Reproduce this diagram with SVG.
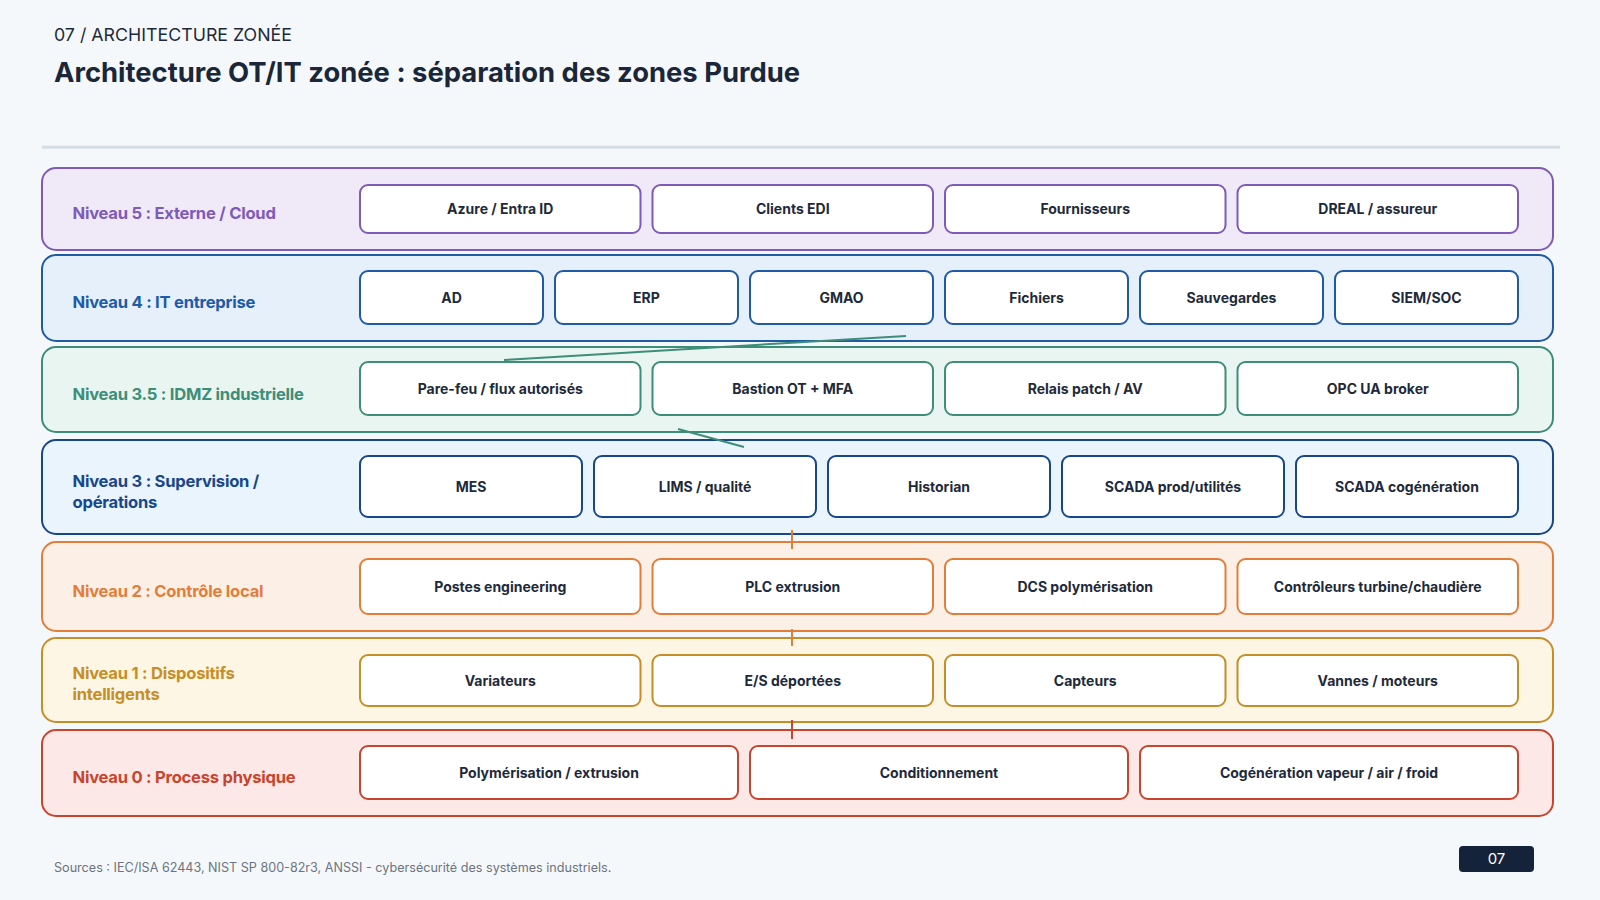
<svg xmlns="http://www.w3.org/2000/svg" width="1600" height="900" viewBox="0 0 1600 900">
<style>
.bg{fill:#F5F8FB}
.kicker{font-family:Inter,"Liberation Sans",sans-serif;font-size:17.8px;fill:#1E2A3A}
.title{font-family:Inter,"Liberation Sans",sans-serif;font-size:27.4px;font-weight:700;fill:#1B2638}
.band{stroke-width:2}
.node{fill:#FFFFFF;stroke-width:2}
.lbl{font-family:Inter,"Liberation Sans",sans-serif;font-size:16.6px;font-weight:700;letter-spacing:-0.25px}
.nt{font-family:Inter,"Liberation Sans",sans-serif;font-size:14px;font-weight:700;fill:#1E2A3A;text-anchor:middle}
.l5 .band{fill:#F0EAF8;stroke:#7E5BB8}.l5 .node{stroke:#7E5BB8}.l5 .lbl{fill:#7E5BB8}
.l4 .band{fill:#E6F0FB;stroke:#1F5AA6}.l4 .node{stroke:#1F5AA6}.l4 .lbl{fill:#1F5AA6}
.l35 .band{fill:#E8F5F0;stroke:#3E8D78}.l35 .node{stroke:#3E8D78}.l35 .lbl{fill:#3E8D78}
.l3 .band{fill:#EAF4FD;stroke:#17478A}.l3 .node{stroke:#17478A}.l3 .lbl{fill:#17478A}
.l2 .band{fill:#FCF0E6;stroke:#E37D3A}.l2 .node{stroke:#E37D3A}.l2 .lbl{fill:#E37D3A}
.l1 .band{fill:#FDF6E4;stroke:#C68E26}.l1 .node{stroke:#C68E26}.l1 .lbl{fill:#C68E26}
.l0 .band{fill:#FCE9E7;stroke:#C9442D}.l0 .node{stroke:#C9442D}.l0 .lbl{fill:#C9442D}
.foot{font-family:Inter,"Liberation Sans",sans-serif;font-size:12.6px;fill:#6B7480}
</style>
<rect class="bg" x="0" y="0" width="1600" height="900"/>
<text class="kicker" x="54" y="40.5">07 / ARCHITECTURE ZONÉE</text>
<text class="title" x="54" y="82">Architecture OT/IT zonée : séparation des zones Purdue</text>
<rect x="42" y="145.7" width="1518" height="3" fill="#D6DDE5"/>

<g id="niveau5" class="l5">
<rect class="band" x="42" y="168" width="1511" height="82" rx="14"/>
<text class="lbl" x="72.5" y="218.5">Niveau 5 : Externe / Cloud</text>
<g id="n5-azure"><rect class="node" x="360" y="185" width="280.5" height="48" rx="8"/><text class="nt" x="500.25" y="214">Azure / Entra ID</text></g>
<g id="n5-edi"><rect class="node" x="652.5" y="185" width="280.5" height="48" rx="8"/><text class="nt" x="792.75" y="214">Clients EDI</text></g>
<g id="n5-fourn"><rect class="node" x="945" y="185" width="280.5" height="48" rx="8"/><text class="nt" x="1085.25" y="214">Fournisseurs</text></g>
<g id="n5-dreal"><rect class="node" x="1237.5" y="185" width="280.5" height="48" rx="8"/><text class="nt" x="1377.75" y="214">DREAL / assureur</text></g>
</g>

<g id="niveau4" class="l4">
<rect class="band" x="42" y="255" width="1511" height="86" rx="14"/>
<text class="lbl" x="72.5" y="307.5">Niveau 4 : IT entreprise</text>
<g id="n4-ad"><rect class="node" x="360" y="271" width="183" height="53" rx="8"/><text class="nt" x="451.5" y="302.5">AD</text></g>
<g id="n4-erp"><rect class="node" x="555" y="271" width="183" height="53" rx="8"/><text class="nt" x="646.5" y="302.5">ERP</text></g>
<g id="n4-gmao"><rect class="node" x="750" y="271" width="183" height="53" rx="8"/><text class="nt" x="841.5" y="302.5">GMAO</text></g>
<g id="n4-fichiers"><rect class="node" x="945" y="271" width="183" height="53" rx="8"/><text class="nt" x="1036.5" y="302.5">Fichiers</text></g>
<g id="n4-sauv"><rect class="node" x="1140" y="271" width="183" height="53" rx="8"/><text class="nt" x="1231.5" y="302.5">Sauvegardes</text></g>
<g id="n4-siem"><rect class="node" x="1335" y="271" width="183" height="53" rx="8"/><text class="nt" x="1426.5" y="302.5">SIEM/SOC</text></g>
</g>

<g id="niveau35" class="l35">
<rect class="band" x="42" y="347" width="1511" height="85" rx="14"/>
<text class="lbl" x="72.5" y="399.5">Niveau 3.5 : IDMZ industrielle</text>
<g id="n35-pf"><rect class="node" x="360" y="362" width="280.5" height="53" rx="8"/><text class="nt" x="500.25" y="393.5">Pare-feu / flux autorisés</text></g>
<g id="n35-bastion"><rect class="node" x="652.5" y="362" width="280.5" height="53" rx="8"/><text class="nt" x="792.75" y="393.5">Bastion OT + MFA</text></g>
<g id="n35-relais"><rect class="node" x="945" y="362" width="280.5" height="53" rx="8"/><text class="nt" x="1085.25" y="393.5">Relais patch / AV</text></g>
<g id="n35-opc"><rect class="node" x="1237.5" y="362" width="280.5" height="53" rx="8"/><text class="nt" x="1377.75" y="393.5">OPC UA broker</text></g>
</g>

<g id="niveau3" class="l3">
<rect class="band" x="42" y="440" width="1511" height="94" rx="14"/>
<text class="lbl" x="72.5" y="487">Niveau 3 : Supervision /</text>
<text class="lbl" x="72.5" y="507.5">opérations</text>
<g id="n3-mes"><rect class="node" x="360" y="456" width="222" height="61" rx="8"/><text class="nt" x="471" y="491.5">MES</text></g>
<g id="n3-lims"><rect class="node" x="594" y="456" width="222" height="61" rx="8"/><text class="nt" x="705" y="491.5">LIMS / qualité</text></g>
<g id="n3-hist"><rect class="node" x="828" y="456" width="222" height="61" rx="8"/><text class="nt" x="939" y="491.5">Historian</text></g>
<g id="n3-scada1"><rect class="node" x="1062" y="456" width="222" height="61" rx="8"/><text class="nt" x="1173" y="491.5">SCADA prod/utilités</text></g>
<g id="n3-scada2"><rect class="node" x="1296" y="456" width="222" height="61" rx="8"/><text class="nt" x="1407" y="491.5">SCADA cogénération</text></g>
</g>

<g id="niveau2" class="l2">
<rect class="band" x="42" y="542" width="1511" height="89" rx="14"/>
<text class="lbl" x="72.5" y="596.5">Niveau 2 : Contrôle local</text>
<g id="n2-postes"><rect class="node" x="360" y="559" width="280.5" height="55" rx="8"/><text class="nt" x="500.25" y="591.5">Postes engineering</text></g>
<g id="n2-plc"><rect class="node" x="652.5" y="559" width="280.5" height="55" rx="8"/><text class="nt" x="792.75" y="591.5">PLC extrusion</text></g>
<g id="n2-dcs"><rect class="node" x="945" y="559" width="280.5" height="55" rx="8"/><text class="nt" x="1085.25" y="591.5">DCS polymérisation</text></g>
<g id="n2-ctrl"><rect class="node" x="1237.5" y="559" width="280.5" height="55" rx="8"/><text class="nt" x="1377.75" y="591.5">Contrôleurs turbine/chaudière</text></g>
</g>

<g id="niveau1" class="l1">
<rect class="band" x="42" y="638" width="1511" height="84" rx="14"/>
<text class="lbl" x="72.5" y="679">Niveau 1 : Dispositifs</text>
<text class="lbl" x="72.5" y="700">intelligents</text>
<g id="n1-var"><rect class="node" x="360" y="655" width="280.5" height="51" rx="8"/><text class="nt" x="500.25" y="685.5">Variateurs</text></g>
<g id="n1-es"><rect class="node" x="652.5" y="655" width="280.5" height="51" rx="8"/><text class="nt" x="792.75" y="685.5">E/S déportées</text></g>
<g id="n1-capt"><rect class="node" x="945" y="655" width="280.5" height="51" rx="8"/><text class="nt" x="1085.25" y="685.5">Capteurs</text></g>
<g id="n1-vannes"><rect class="node" x="1237.5" y="655" width="280.5" height="51" rx="8"/><text class="nt" x="1377.75" y="685.5">Vannes / moteurs</text></g>
</g>

<g id="niveau0" class="l0">
<rect class="band" x="42" y="730" width="1511" height="86" rx="14"/>
<text class="lbl" x="72.5" y="782.5">Niveau 0 : Process physique</text>
<g id="n0-poly"><rect class="node" x="360" y="746" width="378" height="53" rx="8"/><text class="nt" x="549" y="777.5">Polymérisation / extrusion</text></g>
<g id="n0-cond"><rect class="node" x="750" y="746" width="378" height="53" rx="8"/><text class="nt" x="939" y="777.5">Conditionnement</text></g>
<g id="n0-cogen"><rect class="node" x="1140" y="746" width="378" height="53" rx="8"/><text class="nt" x="1329" y="777.5">Cogénération vapeur / air / froid</text></g>
</g>

<g id="connectors" fill="none" stroke-width="2">
<line x1="504" y1="360" x2="906" y2="336" stroke="#3E8D78"/>
<line x1="678" y1="429" x2="744" y2="447" stroke="#3E8D78"/>
<line x1="792" y1="530" x2="792" y2="549" stroke="#E37D3A"/>
<line x1="792" y1="629" x2="792" y2="646" stroke="#E37D3A"/>
<line x1="792" y1="720" x2="792" y2="739" stroke="#C9442D"/>
</g>

<text class="foot" x="54" y="872">Sources : IEC/ISA 62443, NIST SP 800-82r3, ANSSI - cybersécurité des systèmes industriels.</text>
<g id="page">
<rect x="1459" y="846" width="75" height="26" rx="4" fill="#14223A"/>
<text x="1496.5" y="864" font-family="Inter,'Liberation Sans',sans-serif" font-size="15" fill="#FFFFFF" text-anchor="middle">07</text>
</g>
</svg>
